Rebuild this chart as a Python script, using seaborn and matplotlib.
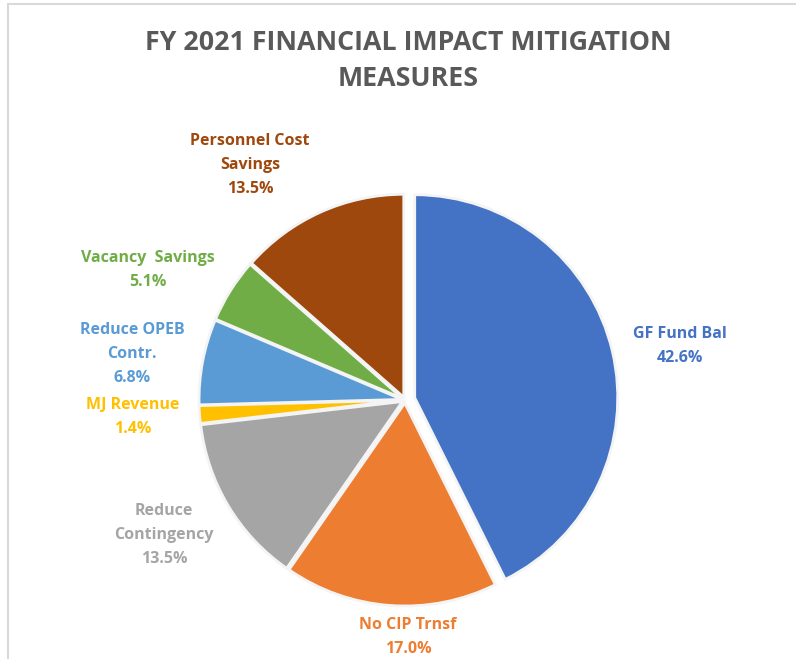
import matplotlib.pyplot as plt
import seaborn as sns

sns.set_theme(style="white")
plt.rcParams['font.family'] = ['Open Sans', 'DejaVu Sans']

# data
labels = ['GF Fund Bal', 'No CIP Trnsf', 'Reduce\nContingency', 'MJ Revenue',
          'Reduce OPEB\nContr.', 'Vacancy  Savings', 'Personnel Cost\nSavings']
shares = [42.6, 17.0, 13.5, 1.4, 6.8, 5.1, 13.5]
colors = ['#4472C4', '#ED7D31', '#A5A5A5', '#FFC000', '#5B9BD5', '#70AD47', '#9E480E']
# explode offsets are in data units (pixels here)
explode = [10, 3, 3, 3, 3, 3, 3]

# label anchor points (pixel coords, y down)
label_pos = [(680, 346), (408, 637), (164, 535), (133, 417),
             (132, 354), (148, 270), (250, 165)]

W, H = 796, 659
fig = plt.figure(figsize=(W / 100, H / 100), dpi=100)
ax = fig.add_axes([0, 0, 1, 1])

cx, cy, r = 405, 400, 203
# y axis gets flipped below, so start at -90 and go counterclockwise in data
# space -> clockwise from 12 o'clock on screen
wedges, _ = ax.pie(shares, colors=colors, explode=explode, startangle=-90,
                   counterclock=True, radius=r, center=(cx, cy),
                   wedgeprops=dict(edgecolor='#F4F4F4', linewidth=2))
ax.set_xlim(0, W)
ax.set_ylim(H, 0)
ax.set_aspect('equal')
ax.axis('off')

for lab, val, col, (x, y) in zip(labels, shares, colors, label_pos):
    ax.text(x, y, f'{lab}\n{val:.1f}%', color=col, ha='center', va='center',
            fontsize=11.5, fontweight='bold', linespacing=1.7)

ax.text(W / 2 + 10, 61, 'FY 2021 FINANCIAL IMPACT MITIGATION\nMEASURES',
        ha='center', va='center', fontsize=19.3, fontweight='bold',
        color='#595959', linespacing=1.5)

# chart frame (only top and left edges visible)
ax.plot([8, W], [4, 4], color='#D9D9D9', lw=1.5, clip_on=False)
ax.plot([8, 8], [4, H], color='#D9D9D9', lw=1.5, clip_on=False)

fig.savefig('out.png', dpi=100)
